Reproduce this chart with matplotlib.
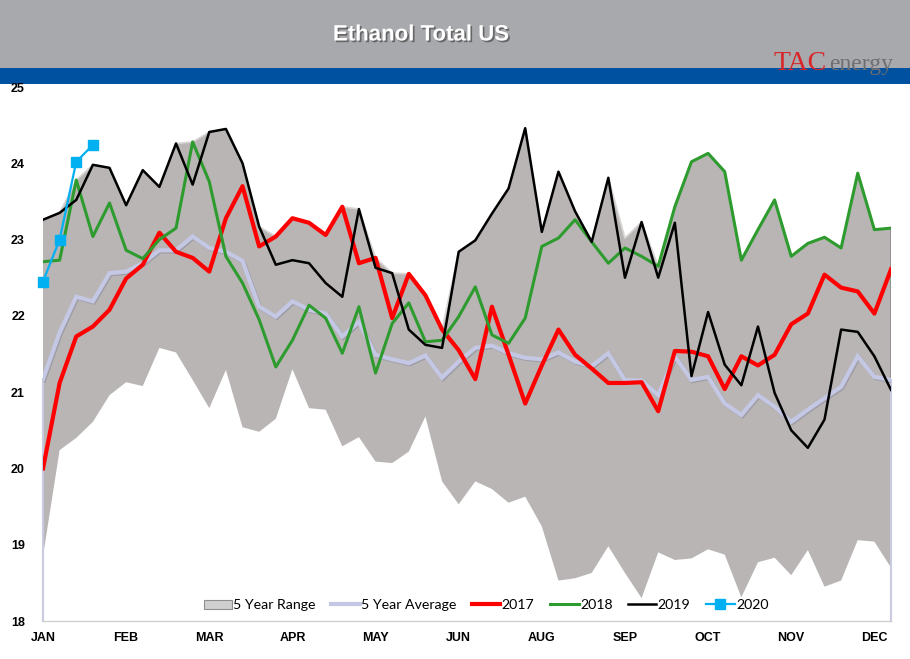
import numpy as np
import matplotlib
matplotlib.use("Agg")
import matplotlib.pyplot as plt
from matplotlib.patches import Rectangle, Patch
from matplotlib.lines import Line2D
import matplotlib.patheffects as pe

# ---------------- data ----------------
month_labels = ['JAN', 'FEB', 'MAR', 'APR', 'MAY', 'JUN', 'AUG', 'SEP', 'OCT', 'NOV', 'DEC']

range_upper = [23.26, 23.35, 23.78, 23.98, 23.94, 23.45, 23.91, 23.69, 24.26, 24.28,
               24.41, 24.45, 24.00, 23.17, 23.04, 23.28, 23.22, 23.06, 23.43, 23.40,
               22.76, 22.56, 22.55, 22.27, 21.82, 22.84, 22.99, 23.34, 23.67, 24.46,
               23.10, 23.89, 23.37, 22.97, 23.81, 23.02, 23.23, 22.65, 23.43, 24.02,
               24.13, 23.89, 22.73, 23.13, 23.52, 22.78, 22.95, 23.03, 22.89, 23.87,
               23.13, 23.15]
range_lower = [18.85, 20.24, 20.40, 20.61, 20.96, 21.13, 21.08, 21.58, 21.52, 21.16,
               20.79, 21.29, 20.54, 20.48, 20.65, 21.30, 20.79, 20.77, 20.29, 20.41,
               20.09, 20.07, 20.22, 20.68, 19.83, 19.53, 19.83, 19.73, 19.55, 19.63,
               19.24, 18.53, 18.56, 18.63, 18.98, 18.63, 18.30, 18.90, 18.80, 18.82,
               18.94, 18.87, 18.31, 18.77, 18.83, 18.60, 18.93, 18.45, 18.53, 19.06,
               19.04, 18.70]
avg5 = [21.17, 21.78, 22.25, 22.19, 22.56, 22.58, 22.69, 22.86, 22.86, 23.04,
        22.89, 22.84, 22.72, 22.12, 21.99, 22.19, 22.08, 22.03, 21.73, 21.92,
        21.49, 21.43, 21.38, 21.48, 21.19, 21.40, 21.58, 21.61, 21.51, 21.45,
        21.43, 21.52, 21.40, 21.34, 21.51, 21.16, 21.15, 20.96, 21.47, 21.16,
        21.20, 20.85, 20.70, 20.96, 20.81, 20.61, 20.77, 20.92, 21.07, 21.47,
        21.20, 21.16]
y2017 = [20.00, 21.12, 21.73, 21.86, 22.08, 22.49, 22.67, 23.09, 22.84, 22.76,
         22.58, 23.28, 23.70, 22.91, 23.04, 23.28, 23.22, 23.06, 23.43, 22.69,
         22.76, 21.97, 22.55, 22.27, 21.82, 21.55, 21.17, 22.12, 21.49, 20.85,
         21.35, 21.82, 21.49, 21.31, 21.12, 21.12, 21.13, 20.75, 21.54, 21.53,
         21.47, 21.04, 21.47, 21.35, 21.49, 21.89, 22.03, 22.54, 22.37, 22.32,
         22.03, 22.61]
y2018 = [22.71, 22.73, 23.78, 23.04, 23.48, 22.86, 22.75, 23.00, 23.15, 24.28,
         23.76, 22.78, 22.43, 21.95, 21.33, 21.68, 22.14, 21.97, 21.51, 22.12,
         21.25, 21.90, 22.17, 21.66, 21.68, 21.99, 22.38, 21.75, 21.64, 21.97,
         22.91, 23.02, 23.26, 22.97, 22.69, 22.89, 22.78, 22.65, 23.43, 24.02,
         24.13, 23.89, 22.73, 23.13, 23.52, 22.78, 22.95, 23.03, 22.89, 23.87,
         23.13, 23.15]
y2019 = [23.26, 23.35, 23.52, 23.98, 23.94, 23.45, 23.91, 23.69, 24.26, 23.72,
         24.41, 24.45, 24.00, 23.17, 22.67, 22.73, 22.69, 22.43, 22.25, 23.40,
         22.63, 22.56, 21.82, 21.62, 21.58, 22.84, 22.99, 23.34, 23.67, 24.46,
         23.10, 23.89, 23.37, 22.97, 23.81, 22.50, 23.23, 22.50, 23.22, 21.21,
         22.05, 21.36, 21.09, 21.86, 20.99, 20.50, 20.27, 20.64, 21.82, 21.79,
         21.47, 21.03]
y2020 = [22.45, 23.00, 24.02, 24.24]

# ---------------- figure ----------------
W, H = 910, 659
fig = plt.figure(figsize=(W / 100, H / 100), dpi=100)
fig.patch.set_facecolor('white')

def fx(px):
    return px / W

def fy(py):
    return 1 - py / H

# header bands
fig.add_artist(Rectangle((0, fy(68)), 1, fy(0) - fy(68), transform=fig.transFigure,
                         facecolor='#a8a9ad', edgecolor='none', zorder=0))
fig.add_artist(Rectangle((0, fy(84)), 1, fy(68) - fy(84), transform=fig.transFigure,
                         facecolor='#0052a0', edgecolor='none', zorder=0))
fig.text(fx(421), fy(35), 'Ethanol Total US', ha='center', va='center', color='white',
         fontsize=16, fontweight='bold', family='Liberation Sans',
         path_effects=[pe.withSimplePatchShadow(offset=(1.2, -1.2), shadow_rgbFace='#555555', alpha=0.8)])
# logo
fig.text(fx(774), fy(70), 'TAC', ha='left', va='baseline', color='#d8262b',
         fontsize=20, family='Liberation Serif')
fig.text(fx(829), fy(70), 'energy', ha='left', va='baseline', color='#6d6e71',
         fontsize=17, family='Liberation Serif')

# axes
x0, x1 = 43, 891
ytop, ybot = 87, 621
ax = fig.add_axes([fx(x0), fy(ybot), fx(x1) - fx(x0), fy(ytop) - fy(ybot)])
ax.set_facecolor('none')
x = np.arange(len(avg5))
ax.set_xlim(0, len(avg5) - 1)
ax.set_ylim(18, 25)

# range
ax.fill_between(x, range_lower, range_upper, facecolor='#b9b5b5', edgecolor='none', zorder=1)
ax.plot(x, range_upper, color='#d9d6d6', lw=1.2, zorder=1.5)
ax.plot([x[-1], x[-1]], [range_lower[-1], range_upper[-1]], color='#8a8787', lw=1.2, zorder=1.5)
# end drops of the average
ax.plot([0, 0], [18, avg5[0]], color='#c8cae2', lw=1.5, zorder=1.6, clip_on=False)
ax.plot([x[-1], x[-1]], [18, avg5[-1]], color='#c8cae2', lw=1.5, zorder=1.6, clip_on=False)

shadow = [pe.SimpleLineShadow(offset=(0.8, -0.8), shadow_color='#8c8c9c', alpha=0.6), pe.Normal()]
ax.plot(x, avg5, color='#c5c8e4', lw=3.0, zorder=2, path_effects=shadow, solid_joinstyle='miter')
ax.plot(x, y2017, color='#ff0000', lw=3.0, zorder=3)
ax.plot(x, y2018, color='#2e9b2e', lw=2.2, zorder=4)
ax.plot(x, y2019, color='#000000', lw=1.8, zorder=5)
ax.plot(np.arange(len(y2020)), y2020, color='#00b0f0', lw=1.6, marker='s', markersize=7,
        zorder=6, clip_on=False)

# axes styling
for s in ['top', 'right', 'left']:
    ax.spines[s].set_visible(False)
ax.spines['bottom'].set_color('#d0d0d0')
ax.spines['bottom'].set_linewidth(1.0)
ax.set_yticks(np.arange(18, 26, 1))
ax.set_yticklabels([str(v) for v in range(18, 26)], fontsize=9, fontweight='bold',
                   family='Liberation Sans')
ax.set_xticks(np.arange(0, 51, 5))
ax.set_xticklabels(month_labels, fontsize=9, fontweight='bold', family='Liberation Sans')
ax.tick_params(axis='y', length=0, pad=13)
ax.tick_params(axis='x', length=0, pad=8)

# legend
handles = [
    Patch(facecolor='#cfcfcf', edgecolor='#8f8f8f', linewidth=0.8),
    Line2D([], [], color='#c5c8e4', lw=3),
    Line2D([], [], color='#ff0000', lw=3),
    Line2D([], [], color='#2e9b2e', lw=2.2),
    Line2D([], [], color='#000000', lw=1.8),
    Line2D([], [], color='#00b0f0', lw=1.6, marker='s', markersize=7),
]
labels = ['5 Year Range', '5 Year Average', '2017', '2018', '2019', '2020']
fig.legend(handles, labels, loc='center', bbox_to_anchor=(fx(486), fy(605)), ncol=6,
           frameon=False, handlelength=2.0, handletextpad=0.1, columnspacing=1.1,
           prop={'family': 'Lato', 'size': 10.2}, handleheight=0.6)

fig.savefig('out.png', dpi=100)
